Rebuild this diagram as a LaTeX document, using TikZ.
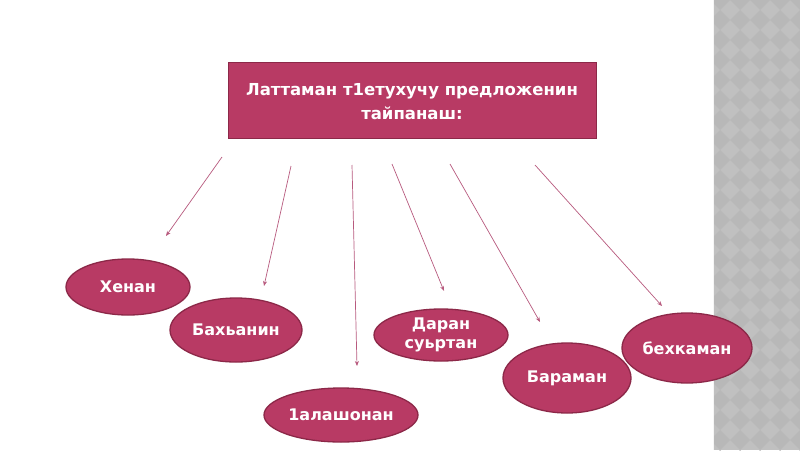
\documentclass[tikz,border=0pt]{standalone}
\usepackage{fontspec}
\setmainfont{DejaVu Sans}
\usetikzlibrary{shapes.geometric,arrows.meta}
\definecolor{mar}{HTML}{B83A64}
\definecolor{marline}{HTML}{8C2848}
\definecolor{arr}{HTML}{B85A7E}
\definecolor{stripe}{HTML}{C0C0C0}
\definecolor{stripedk}{HTML}{B8B8B8}
\tikzset{
  oval/.style={ellipse, draw=marline, line width=1.3pt, fill=mar, text=white,
    font=\bfseries\fontsize{16}{19}\selectfont, align=center, inner sep=0pt},
  titlebox/.style={rectangle, draw=marline, line width=1pt, fill=mar, text=white,
    font=\bfseries\fontsize{16.5}{24}\selectfont, align=center, minimum width=368pt, minimum height=76pt},
  link/.style={draw=arr, line width=0.7pt, -{Stealth[length=5pt,width=4pt]}}
}
\begin{document}
\begin{tikzpicture}[x=1pt,y=-1pt]
\useasboundingbox (0,0) rectangle (800,450);
\fill[white] (0,0) rectangle (800,450);
% right stripe
\begin{scope}
\clip (713,0) rectangle (800,450);
\fill[stripe] (713,0) rectangle (800,450);
\foreach \i in {0,...,5}{
  \foreach \j in {0,...,23}{
    \fill[stripedk] (700+\i*20,\j*20-10) -- ++(10,10) -- ++(-10,10) -- ++(-10,-10) -- cycle;
  }
}
\draw[white!85!stripe, line width=1.2pt] (713.5,0) -- (713.5,450);
\end{scope}
% title
\node[titlebox] (t) at (412,100) {\rule{0pt}{15pt}Латтаман т1етухучу предложенин\\тайпанаш:};
% ovals
\node[oval, minimum width=124pt, minimum height=56pt] (h) at (128,287) {Хенан};
\node[oval, minimum width=132pt, minimum height=64pt] (b) at (236,330) {Бахьанин};
\node[oval, minimum width=154pt, minimum height=54pt] (a) at (341,415) {1алашонан};
\node[oval, minimum width=134pt, minimum height=52pt] (d) at (441,335) {Даран\\суьртан};
\node[oval, minimum width=128pt, minimum height=70pt] (br) at (567,378) {Бараман};
\node[oval, minimum width=130pt, minimum height=70pt] (bx) at (687,348) {бехкаман};
% free-floating arrows
\coordinate (s1) at (222,157); \coordinate (e1) at (166,236);
\coordinate (s2) at (291,166); \coordinate (e2) at (264,286);
\coordinate (s3) at (352,165); \coordinate (e3) at (357,366);
\coordinate (s4) at (392,164); \coordinate (e4) at (444,291);
\coordinate (s5) at (450,164); \coordinate (e5) at (540,322);
\coordinate (s6) at (535,165); \coordinate (e6) at (662,306);
\foreach \k in {1,...,6}{ \draw[link] (s\k) -- (e\k); }
\end{tikzpicture}
\end{document}
